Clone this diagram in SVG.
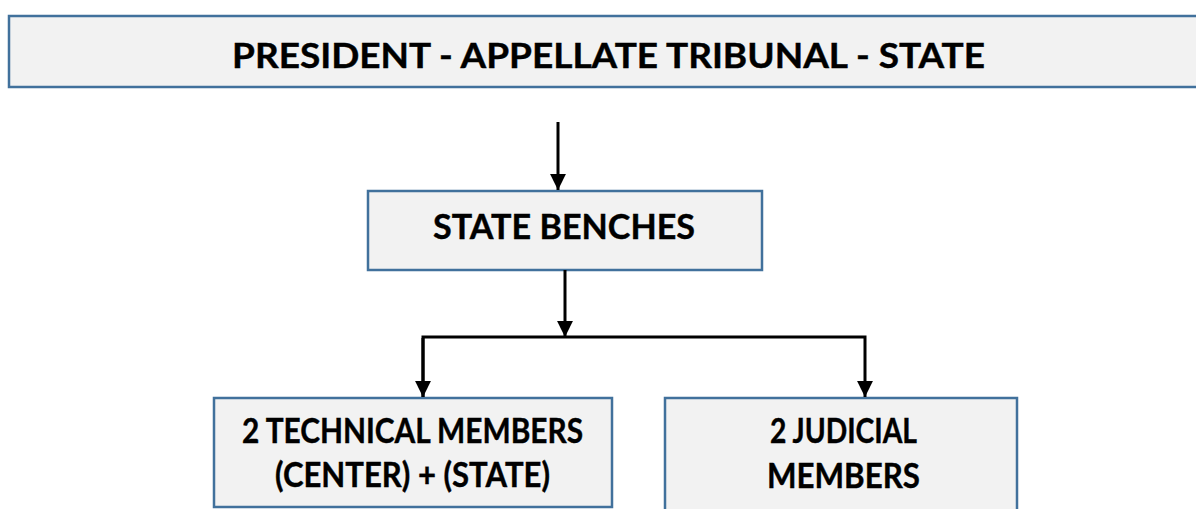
<svg xmlns="http://www.w3.org/2000/svg" width="1196" height="509" viewBox="0 0 1196 509">
<defs>
<style>
.box{fill:#f2f2f2;stroke:#41719c;stroke-width:2.5}
.t{font-family:Lato,"Liberation Sans",sans-serif;font-weight:bold;font-size:34px;fill:#000;stroke:#000;stroke-width:0.4;text-anchor:middle}
.c{fill:none;stroke:#000;stroke-width:3}
</style>
<marker id="ah" viewBox="0 0 10 10" refX="10" refY="5" markerWidth="5.3" markerHeight="5.3" markerUnits="strokeWidth" orient="auto">
<path d="M0,0 L10,5 L0,10 Z" fill="#000"/>
</marker>
</defs>
<rect width="1196" height="509" fill="#fff"/>
<g id="president">
<rect class="box" x="9" y="16" width="1200" height="71"/>
<text class="t" x="608.5" y="68" textLength="753" lengthAdjust="spacingAndGlyphs">PRESIDENT - APPELLATE TRIBUNAL - STATE</text>
</g>
<g id="state-benches">
<rect class="box" x="368" y="191" width="394" height="79"/>
<text class="t" x="564" y="239" textLength="262" lengthAdjust="spacingAndGlyphs">STATE BENCHES</text>
</g>
<g id="technical">
<rect class="box" x="214" y="398" width="398" height="109"/>
<text class="t" x="412.5" y="443" textLength="341" lengthAdjust="spacingAndGlyphs">2 TECHNICAL MEMBERS</text>
<text class="t" x="412.5" y="487" textLength="275" lengthAdjust="spacingAndGlyphs">(CENTER) + (STATE)</text>
</g>
<g id="judicial">
<rect class="box" x="665" y="398" width="352" height="120"/>
<text class="t" x="843.5" y="443" textLength="147" lengthAdjust="spacingAndGlyphs">2 JUDICIAL</text>
<text class="t" x="843.5" y="488" textLength="153" lengthAdjust="spacingAndGlyphs">MEMBERS</text>
</g>
<g id="connectors">
<path class="c" d="M558,122 V190" marker-end="url(#ah)"/>
<path class="c" d="M565,270 V337" marker-end="url(#ah)"/>
<path class="c" d="M423,397 V337 H865 V397" marker-end="url(#ah)"/>
<path class="c" d="M423,338 V397" marker-end="url(#ah)"/>
</g>
</svg>
